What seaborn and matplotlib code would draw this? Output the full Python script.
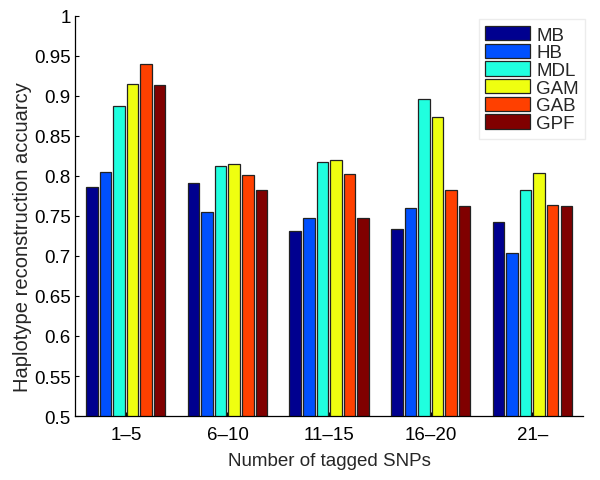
import matplotlib
matplotlib.use("Agg")
import matplotlib.pyplot as plt
import seaborn as sns
import pandas as pd

groups = ["1\u20135", "6\u201310", "11\u201315", "16\u201320", "21\u2013"]
methods = ["MB", "HB", "MDL", "GAM", "GAB", "GPF"]
MB = [0.786, 0.791, 0.731, 0.734, 0.742]
HB = [0.805, 0.755, 0.748, 0.760, 0.704]
MDL = [0.887, 0.813, 0.818, 0.896, 0.783]
GAM = [0.915, 0.815, 0.820, 0.874, 0.804]
GAB = [0.940, 0.801, 0.802, 0.782, 0.764]
GPF = [0.914, 0.783, 0.748, 0.763, 0.763]
colors = ["#00008F", "#0050FF", "#20FFDF", "#EFFF10", "#FF4000", "#800000"]
yticks = [0.5, 0.55, 0.6, 0.65, 0.7, 0.75, 0.8, 0.85, 0.9, 0.95, 1]

series = {"MB": MB, "HB": HB, "MDL": MDL, "GAM": GAM, "GAB": GAB, "GPF": GPF}
rows = []
for m in methods:
    for g, v in zip(groups, series[m]):
        rows.append({"group": g, "method": m, "value": v})
df = pd.DataFrame(rows)

sns.set_style("ticks")
plt.rcParams["font.family"] = ["Liberation Sans", "DejaVu Sans"]

fig = plt.figure(figsize=(6.0, 4.81), dpi=100)
ax = fig.add_axes([0.125, 0.133, 0.847, 0.832])

sns.barplot(data=df, x="group", y="value", hue="method", hue_order=methods,
            order=groups, palette=colors, saturation=1, width=0.8, gap=0.15,
            edgecolor="#222222", linewidth=0.9, ax=ax, legend=True)

ax.set_xlim(-0.5, 4.5)
ax.set_ylim(0.5, 1.0)
ax.set_yticks(yticks)
ax.set_yticklabels([("%g" % t) for t in yticks])
ax.tick_params(axis="both", direction="in", length=3, width=0.8, labelsize=13.5, colors="black")
ax.tick_params(axis="x", pad=7)
ax.tick_params(axis="y", pad=3)
ax.set_xlabel("Number of tagged SNPs", fontsize=13.5, labelpad=7)
ax.set_ylabel("Haplotype reconstruction accuarcy", fontsize=14.5, ha="center", va="center")
ax.yaxis.set_label_coords(-0.104, 0.45)
for s in ["top", "right"]:
    ax.spines[s].set_visible(False)
for s in ["left", "bottom"]:
    ax.spines[s].set_linewidth(0.9)
    ax.spines[s].set_color("black")

leg = ax.legend(loc="upper right", bbox_to_anchor=(1.004, 0.991), fontsize=13.5,
                frameon=True, fancybox=False, edgecolor="#e8e8e8",
                handlelength=2.4, handleheight=0.8, handletextpad=0.3,
                labelspacing=0.0, borderpad=0.35, borderaxespad=0.0)
leg.get_frame().set_linewidth(1.0)

fig.savefig("out.png", dpi=100)
